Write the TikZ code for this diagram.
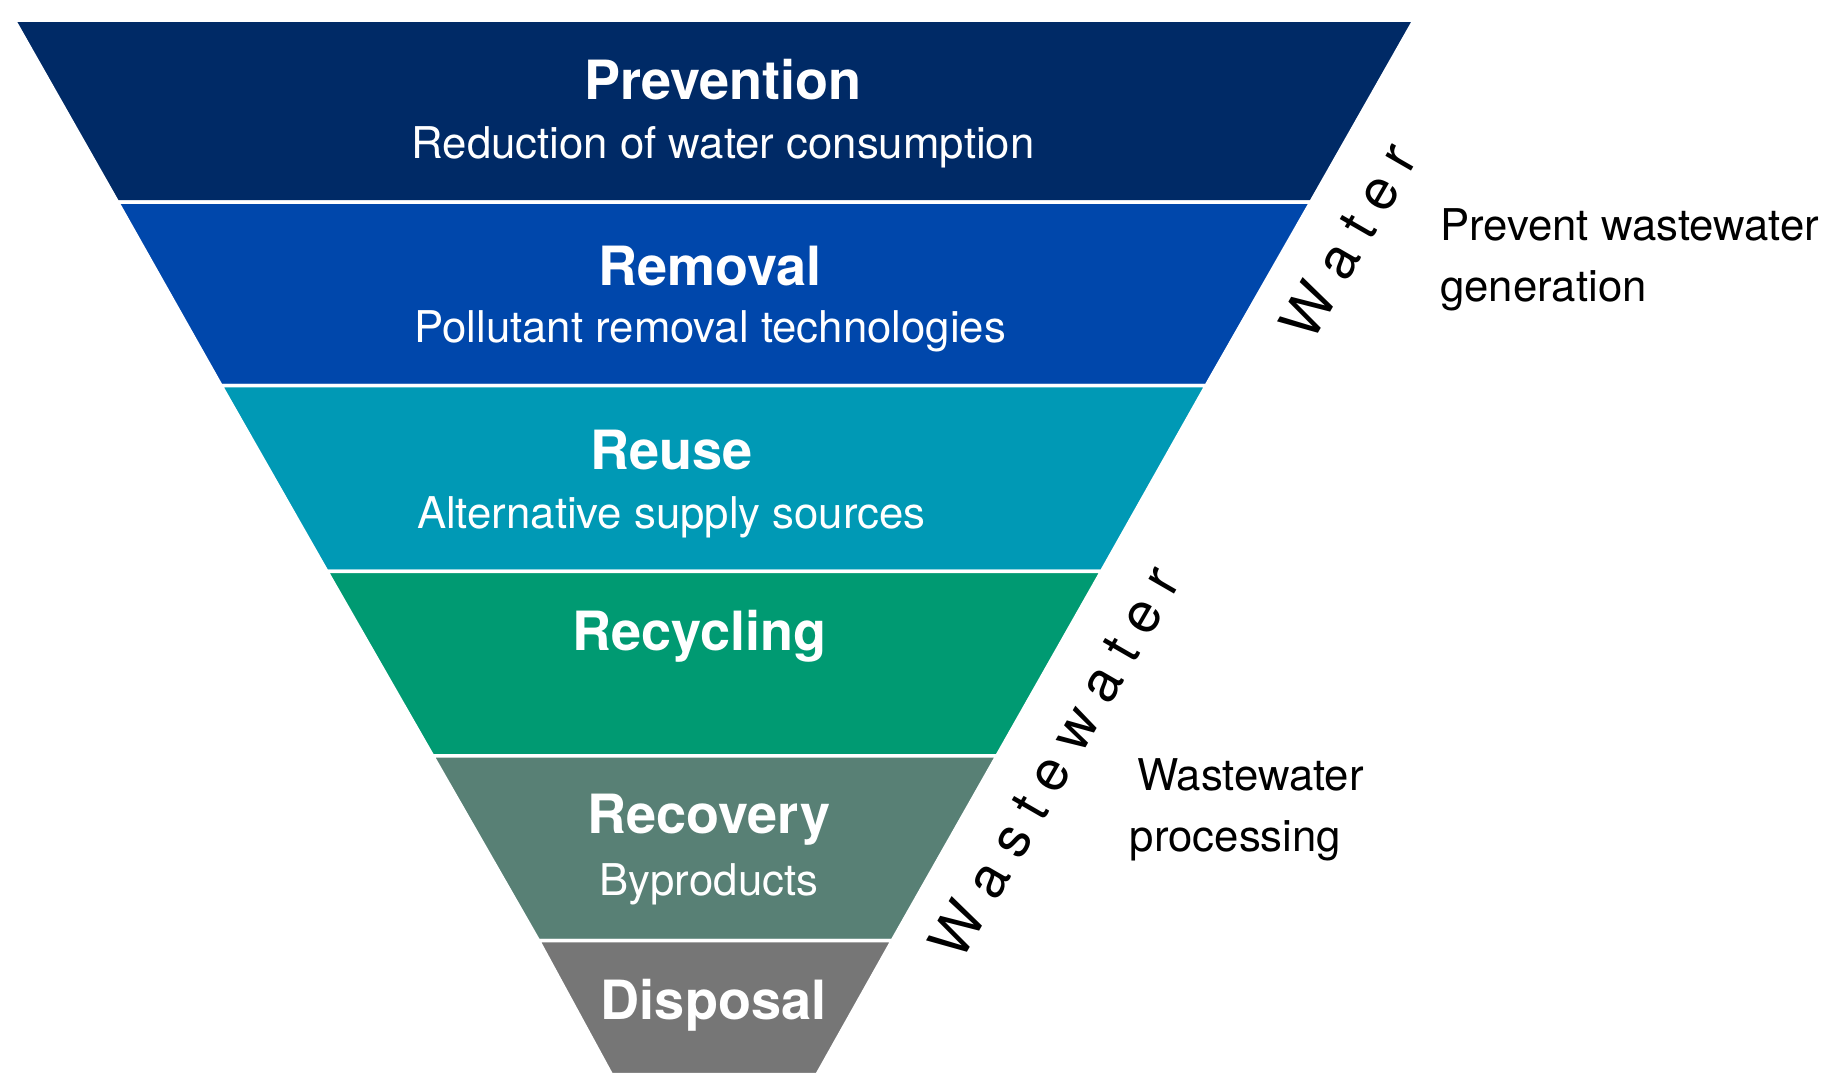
\documentclass[tikz,border=0pt]{standalone}
\usepackage{fontspec}
\setmainfont{TeX Gyre Heros}
\newcommand{\spc}{\hspace{0.28em}}
\begin{document}
\begin{tikzpicture}[x=0.5pt,y=-0.5pt,
  band/.style={draw=white,line width=1.5pt},
  ttl/.style={text=white,font=\bfseries\fontsize{23}{26}\selectfont,anchor=center},
  sub/.style={text=white,font=\fontsize{18.6}{20}\selectfont,anchor=center},
  side/.style={text=black,font=\fontsize{18.6}{26}\selectfont,align=left,anchor=west},
  vert/.style={text=black,font=\fontsize{24}{26}\selectfont,rotate=60,anchor=center,inner sep=0pt}]
\useasboundingbox (0,0) rectangle (1560,927);
\definecolor{c1}{HTML}{002A66}
\definecolor{c2}{HTML}{0047AB}
\definecolor{c3}{HTML}{0099B5}
\definecolor{c4}{HTML}{009A72}
\definecolor{c5}{HTML}{588075}
\definecolor{c6}{HTML}{767676}
\fill[c1,band] (12,17) -- (1203,17) -- (1115,172) -- (100,172) -- cycle;
\fill[c2,band] (100,172) -- (1115,172) -- (1026,328) -- (188,328) -- cycle;
\fill[c3,band] (188,328) -- (1026,328) -- (937,486) -- (278,486) -- cycle;
\fill[c4,band] (278,486) -- (937,486) -- (848,643) -- (368,643) -- cycle;
\fill[c5,band] (368,643) -- (848,643) -- (759,800) -- (458,800) -- cycle;
\fill[c6,band] (458,800) -- (759,800) -- (695,914) -- (520,914) -- cycle;
\node[ttl] (t1) at (615,68) {Prevention};
\node[sub] (s1) at (615,125) {Reduction of water consumption};
\node[ttl] (t2) at (604,226) {Removal};
\node[sub] (s2) at (604,282) {Pollutant removal technologies};
\node[ttl] (t3) at (571,383) {Reuse};
\node[sub] (s3) at (571,440) {Alternative supply sources};
\node[ttl] (t4) at (595,541) {Recycling};
\node[ttl] (t5) at (603,697) {Recovery};
\node[sub] (s5) at (603,752) {Byproducts};
\node[ttl] (t6) at (607,855) {Disposal};
\node[vert] (w1) at (1147,205) {W\spc a\spc t\spc e\spc r};
\node[vert] (w2) at (897,648) {W\spc a\spc s\spc t\spc e\spc w\spc a\spc t\spc e\spc r};
\node[side] (p1) at (1218,221) {Prevent wastewater\\generation};
\node[side] (p2) at (954,689) {\,Wastewater\\processing};
\end{tikzpicture}
\end{document}
